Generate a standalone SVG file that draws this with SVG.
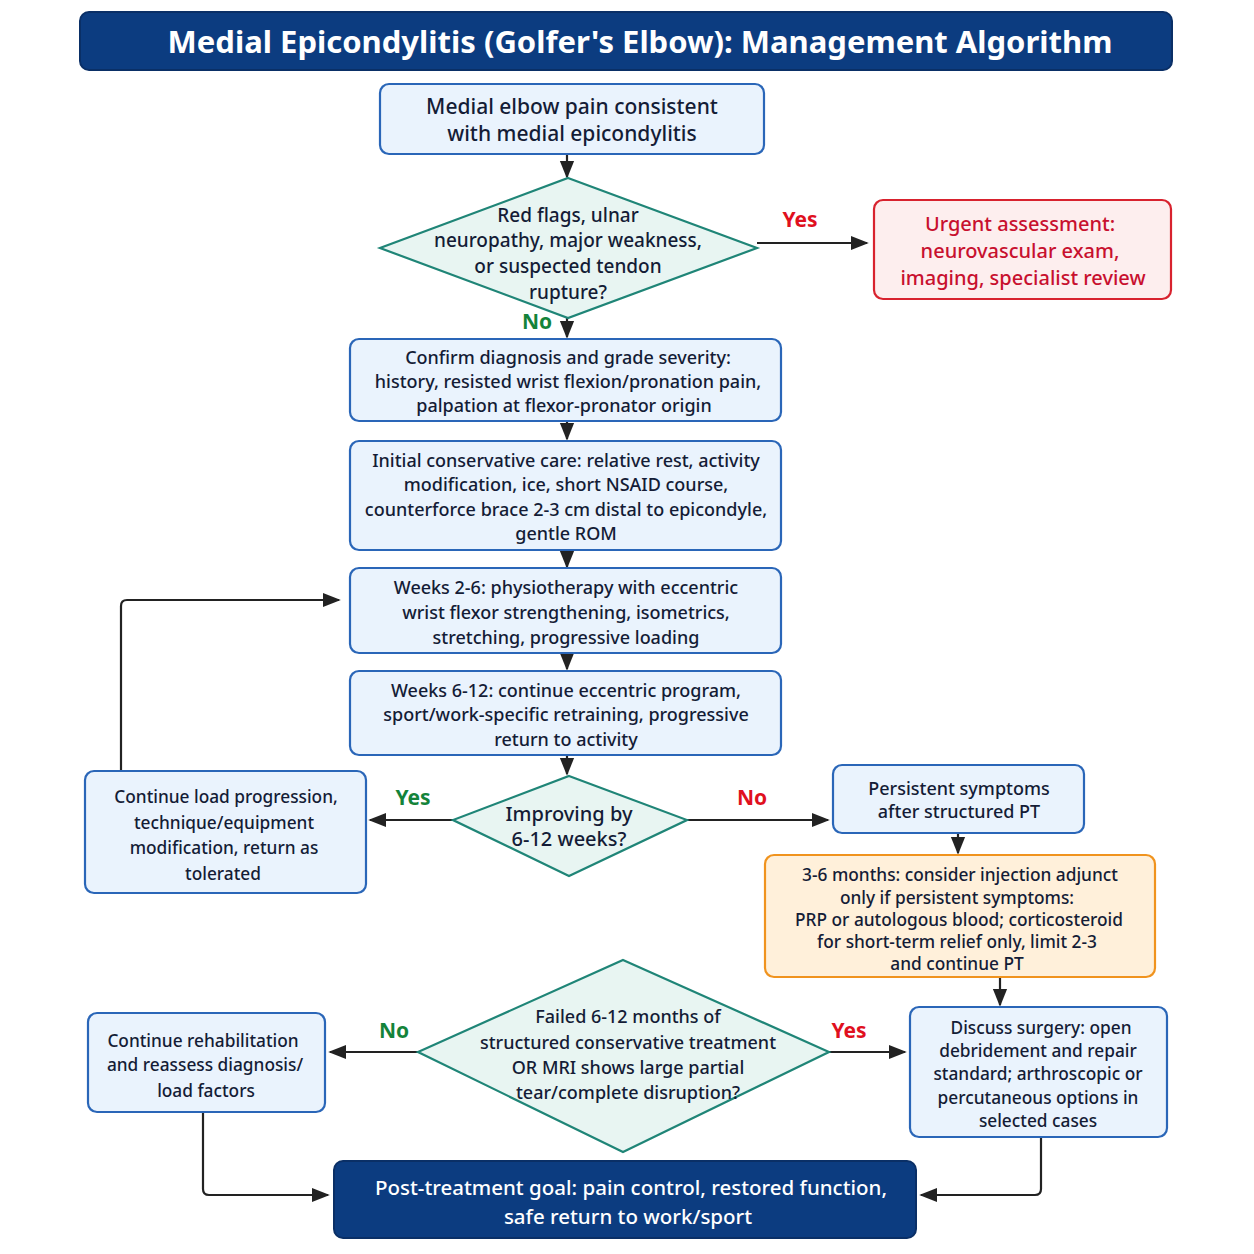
<svg xmlns="http://www.w3.org/2000/svg" width="1254" height="1254" viewBox="0 0 1254 1254">
<defs>
<marker id="ah2" viewBox="0 0 10 10" refX="9" refY="5" markerWidth="18" markerHeight="18" markerUnits="userSpaceOnUse" orient="auto">
<path d="M0,1 L10,5 L0,9 z" fill="#222"/>
</marker>
</defs>
<style>
text{font-family:"Noto Sans","Open Sans","Liberation Sans",sans-serif;text-anchor:middle;dominant-baseline:central;font-weight:500;fill:#141c36}
.box{fill:#eaf3fd;stroke:#2a66b8;stroke-width:2.2}
.dia{fill:#e8f5f2;stroke:#1f8577;stroke-width:2.2}
.red{fill:#fdeeee;stroke:#d8222e;stroke-width:2.2}
.org{fill:#fff0da;stroke:#f0931e;stroke-width:2.2}
.navy{fill:#0c3c80;stroke:#0a2f66;stroke-width:2}
.t20{font-size:19px}
.t19{font-size:18px}
.t17{font-size:17.3px}
.rt{fill:#c8102e}
.wt{fill:#ffffff}
.lab{font-size:21px;font-weight:700}
.yesr{fill:#e0101e}
.nog{fill:#14833a}
.c{fill:none;stroke:#222;stroke-width:2.2;marker-end:url(#ah2)}
</style>
<rect width="1254" height="1254" fill="#ffffff"/>
<g id="title">
<rect x="80" y="12" width="1092" height="58" rx="9" class="navy"/>
<text x="640" y="41" class="wt" style="font-size:31px;font-weight:700">Medial Epicondylitis (Golfer's Elbow): Management Algorithm</text>
</g>
<g id="connectors">
<path class="c" d="M567,154 V177"/>
<path class="c" d="M757,243 H867"/>
<path class="c" d="M567,318 V337"/>
<path class="c" d="M567,421 V439"/>
<path class="c" d="M567,550 V567"/>
<path class="c" d="M567,653 V669"/>
<path class="c" d="M567,755 V774"/>
<path class="c" d="M453,820 H370"/>
<path class="c" d="M121,771 V606 Q121,600 127,600 H339"/>
<path class="c" d="M687,820 H828"/>
<path class="c" d="M958,833 V853"/>
<path class="c" d="M1000,977 V1005"/>
<path class="c" d="M418,1052 H330"/>
<path class="c" d="M829,1052 H905"/>
<path class="c" d="M203,1112 V1189 Q203,1195 209,1195 H328"/>
<path class="c" d="M1041,1137 V1189 Q1041,1195 1035,1195 H921"/>
<text x="800" y="219" class="lab yesr">Yes</text>
<text x="537" y="321" class="lab nog">No</text>
<text x="413" y="797" class="lab nog">Yes</text>
<text x="752" y="797" class="lab yesr">No</text>
<text x="394" y="1030" class="lab nog">No</text>
<text x="849" y="1030" class="lab yesr">Yes</text>
</g>
<g id="start">
<rect x="380" y="84" width="384" height="70" rx="9" class="box"/>
<text x="572" y="106" style="font-size:21px">Medial elbow pain consistent</text>
<text x="572" y="133" style="font-size:21px">with medial epicondylitis</text>
</g>
<g id="redflags">
<polygon points="568,178 757,248 568,318 380,248" class="dia"/>
<text x="568" y="215" class="t20">Red flags, ulnar</text>
<text x="568" y="240" class="t20">neuropathy, major weakness,</text>
<text x="568" y="266" class="t20">or suspected tendon</text>
<text x="568" y="292" class="t20">rupture?</text>
</g>
<g id="urgent">
<rect x="874" y="200" width="297" height="99" rx="9" class="red"/>
<text x="1020" y="223" class="rt" style="font-size:20px">Urgent assessment:</text>
<text x="1020" y="250" class="rt" style="font-size:20px">neurovascular exam,</text>
<text x="1023" y="277" class="rt" style="font-size:20px">imaging, specialist review</text>
</g>
<g id="confirm">
<rect x="350" y="339" width="431" height="82" rx="9" class="box"/>
<text x="568" y="357" class="t19">Confirm diagnosis and grade severity:</text>
<text x="568" y="381" class="t19">history, resisted wrist flexion/pronation pain,</text>
<text x="564" y="405" class="t19">palpation at flexor-pronator origin</text>
</g>
<g id="initial">
<rect x="350" y="441" width="431" height="109" rx="9" class="box"/>
<text x="566" y="460" class="t19">Initial conservative care: relative rest, activity</text>
<text x="566" y="484" class="t19">modification, ice, short NSAID course,</text>
<text x="566" y="509" class="t19">counterforce brace 2-3 cm distal to epicondyle,</text>
<text x="566" y="533" class="t19">gentle ROM</text>
</g>
<g id="weeks26">
<rect x="350" y="568" width="431" height="85" rx="9" class="box"/>
<text x="566" y="587" class="t19">Weeks 2-6: physiotherapy with eccentric</text>
<text x="566" y="612" class="t19">wrist flexor strengthening, isometrics,</text>
<text x="566" y="637" class="t19">stretching, progressive loading</text>
</g>
<g id="weeks612">
<rect x="350" y="671" width="431" height="84" rx="9" class="box"/>
<text x="566" y="690" class="t19">Weeks 6-12: continue eccentric program,</text>
<text x="566" y="714" class="t19">sport/work-specific retraining, progressive</text>
<text x="566" y="739" class="t19">return to activity</text>
</g>
<g id="improving">
<polygon points="569,776 687,820 569,876 453,820" class="dia"/>
<text x="569" y="813" style="font-size:20px">Improving by</text>
<text x="569" y="838" style="font-size:20px">6-12 weeks?</text>
</g>
<g id="continueload">
<rect x="85" y="771" width="281" height="122" rx="9" class="box"/>
<text x="226" y="796" class="t17">Continue load progression,</text>
<text x="224" y="822" class="t17">technique/equipment</text>
<text x="224" y="847" class="t17">modification, return as</text>
<text x="223" y="873" class="t17">tolerated</text>
</g>
<g id="persistent">
<rect x="833" y="765" width="251" height="68" rx="9" class="box"/>
<text x="959" y="788" class="t19">Persistent symptoms</text>
<text x="959" y="811" class="t19">after structured PT</text>
</g>
<g id="injection">
<rect x="765" y="855" width="390" height="122" rx="9" class="org"/>
<text x="960" y="874" class="t17">3-6 months: consider injection adjunct</text>
<text x="957" y="897" class="t17">only if persistent symptoms:</text>
<text x="959" y="919" class="t17">PRP or autologous blood; corticosteroid</text>
<text x="957" y="941" class="t17">for short-term relief only, limit 2-3</text>
<text x="957" y="963" class="t17">and continue PT</text>
</g>
<g id="failed">
<polygon points="623,960 829,1052 623,1152 418,1052" class="dia"/>
<text x="628" y="1016" class="t19">Failed 6-12 months of</text>
<text x="628" y="1042" class="t19">structured conservative treatment</text>
<text x="628" y="1067" class="t19">OR MRI shows large partial</text>
<text x="628" y="1092" class="t19">tear/complete disruption?</text>
</g>
<g id="rehab">
<rect x="88" y="1013" width="237" height="99" rx="9" class="box"/>
<text x="203" y="1040" class="t17">Continue rehabilitation</text>
<text x="205" y="1064" class="t17">and reassess diagnosis/</text>
<text x="206" y="1090" class="t17">load factors</text>
</g>
<g id="surgery">
<rect x="910" y="1007" width="257" height="130" rx="9" class="box"/>
<text x="1041" y="1027" class="t17">Discuss surgery: open</text>
<text x="1038" y="1050" class="t17">debridement and repair</text>
<text x="1038" y="1073" class="t17">standard; arthroscopic or</text>
<text x="1038" y="1097" class="t17">percutaneous options in</text>
<text x="1038" y="1120" class="t17">selected cases</text>
</g>
<g id="goal">
<rect x="334" y="1161" width="582" height="77" rx="9" class="navy"/>
<text x="631" y="1187" class="wt" style="font-size:20.5px">Post-treatment goal: pain control, restored function,</text>
<text x="628" y="1216" class="wt" style="font-size:20.5px">safe return to work/sport</text>
</g>
</svg>
